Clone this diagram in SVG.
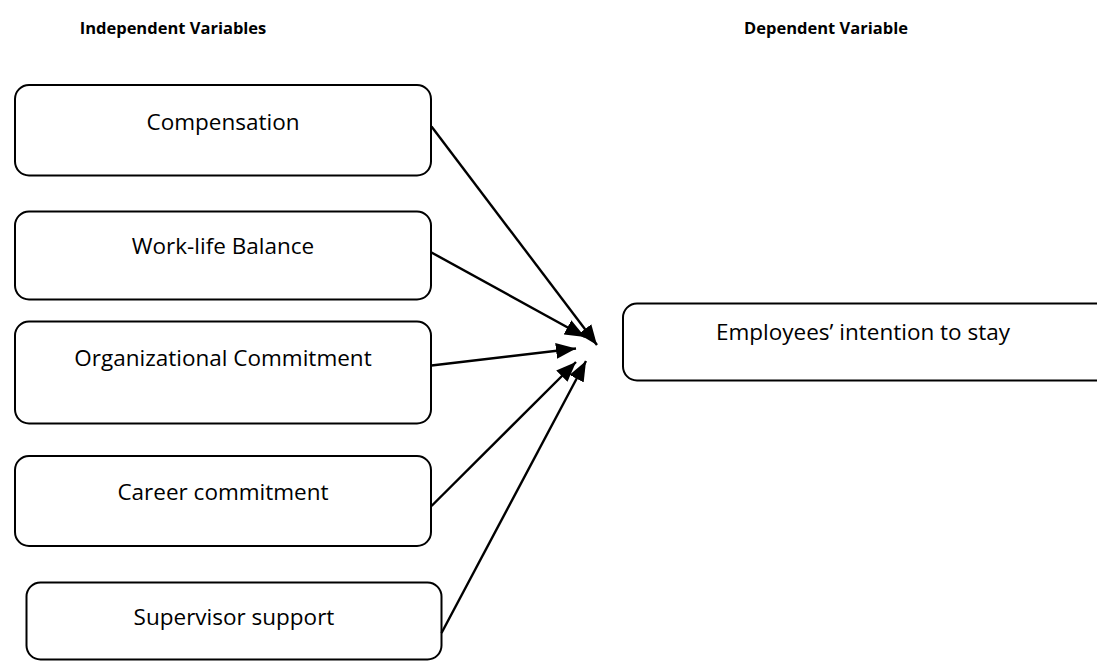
<svg xmlns="http://www.w3.org/2000/svg" width="1097" height="661" viewBox="0 0 1097 661">
<defs>
<style>
.box{fill:#fff;stroke:#000;stroke-width:2}
.lbl{font-family:"Open Sans","Liberation Sans",sans-serif;font-size:22.5px;fill:#000;text-anchor:middle}
.hdr{font-family:"Open Sans","Liberation Sans",sans-serif;font-size:16.5px;font-weight:bold;fill:#000;text-anchor:middle}
.arr{stroke:#000;stroke-width:2.4;fill:none;marker-end:url(#ah)}
</style>
<marker id="ah" markerUnits="userSpaceOnUse" markerWidth="22" markerHeight="16" refX="20" refY="8" orient="auto">
<path d="M0,0 L20,8 L0,16 Z" fill="#000"/>
</marker>
</defs>
<rect width="1097" height="661" fill="#fff"/>
<text class="hdr" x="173" y="34">Independent Variables</text>
<text class="hdr" x="826" y="34">Dependent Variable</text>
<g id="compensation">
<rect class="box" x="15" y="85" width="416" height="90.5" rx="14"/>
<text class="lbl" x="223" y="130">Compensation</text>
</g>
<g id="worklife">
<rect class="box" x="15" y="211.5" width="416" height="88" rx="14"/>
<text class="lbl" x="223" y="254">Work-life Balance</text>
</g>
<g id="orgcommit">
<rect class="box" x="15" y="321.5" width="416" height="102" rx="14"/>
<text class="lbl" x="223" y="366">Organizational Commitment</text>
</g>
<g id="career">
<rect class="box" x="15" y="456" width="416" height="90" rx="14"/>
<text class="lbl" x="223" y="500">Career commitment</text>
</g>
<g id="supervisor">
<rect class="box" x="26.5" y="582.5" width="415" height="77" rx="14"/>
<text class="lbl" x="234" y="625">Supervisor support</text>
</g>
<g id="intention">
<rect class="box" x="623" y="303.5" width="490" height="77" rx="14"/>
<text class="lbl" x="863" y="340">Employees’ intention to stay</text>
</g>
<g id="connectors">
<line class="arr" x1="431.5" y1="126.5" x2="597" y2="345"/>
<line class="arr" x1="431.5" y1="252.5" x2="585" y2="337"/>
<line class="arr" x1="431.5" y1="365.5" x2="576" y2="348.5"/>
<line class="arr" x1="431.5" y1="506" x2="576" y2="362"/>
<line class="arr" x1="441.5" y1="633" x2="586" y2="361"/>
</g>
</svg>
